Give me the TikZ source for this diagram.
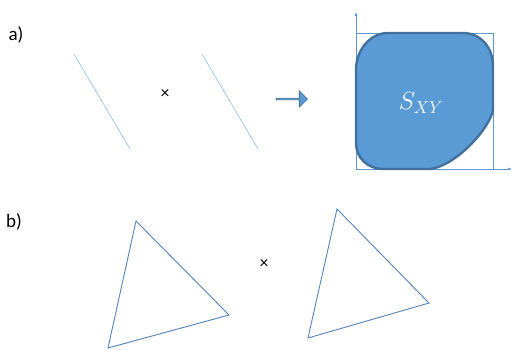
\documentclass[tikz,border=0pt]{standalone}
\usepackage{fontspec}
\setmainfont{Carlito}
\usetikzlibrary{arrows.meta,shapes.arrows}

\definecolor{paleblue}{HTML}{9DC3E6}
\definecolor{axisblue}{HTML}{5B9BD5}
\definecolor{blobfill}{HTML}{5B9BD5}
\definecolor{blobedge}{HTML}{41719C}
\definecolor{triblue}{HTML}{5683BE}

\tikzset{
  tag/.style={font=\fontsize{19}{22}\selectfont, inner sep=0pt},
  prodsign/.style={font=\fontsize{17}{19}\selectfont, inner sep=0pt},
  axisline/.style={axisblue, line width=0.6pt, -{Latex[length=4pt,width=3pt]}},
  tri/.style={triblue, line width=0.9pt, line join=miter}
}

\begin{document}
\begin{tikzpicture}[x=1pt,y=-1pt]
\useasboundingbox (0,0) rectangle (513,349);

%% a)
\node[tag] (taga) at (16,35) {a)};

\coordinate (l1a) at (74,54);  \coordinate (l1b) at (130,149);
\coordinate (l2a) at (202,54); \coordinate (l2b) at (258,149);
\draw[paleblue, line width=0.7pt] (l1a) -- (l1b);
\draw[paleblue, line width=0.7pt] (l2a) -- (l2b);
\node[prodsign] (timesa) at (165,94) {×};

\node[single arrow, fill=blobfill, draw=blobedge, line width=0.8pt,
      minimum width=16pt, minimum height=31pt, single arrow head extend=4pt,
      inner sep=0pt] (imply) at (291.5,99) {};

% axes and box
\coordinate (O) at (356,169);
\coordinate (ytop) at (356,12);
\coordinate (xend) at (512,169);
\draw[axisline] (O) -- (ytop);
\draw[axisline] (O) -- (xend);
\draw[axisblue, line width=0.6pt] (356,33) rectangle (493,169);

\draw[fill=blobfill, draw=blobedge, line width=2.4pt]
(388,33) -- (463,33)
.. controls (481,33) and (493,48) .. (493,66)
-- (493,110)
.. controls (489,130) and (455,166) .. (430,169)
-- (383,169)
.. controls (368,169) and (356,158) .. (356,143)
-- (356,70)
.. controls (356,50) and (370,33) .. (388,33) -- cycle;
\node[text=white, font=\fontsize{24}{26}\selectfont] (sxy) at (421,103) {$S_{XY}$};

%% b)
\node[tag] (tagb) at (14,222) {b)};

\coordinate (t1a) at (136,221); \coordinate (t1b) at (229,315); \coordinate (t1c) at (108,348);
\draw[tri] (t1a) -- (t1b) -- (t1c) -- cycle;

\node[prodsign] (timesb) at (264,264) {×};

\coordinate (t2a) at (337,209); \coordinate (t2b) at (429,303); \coordinate (t2c) at (308,338);
\draw[tri] (t2a) -- (t2b) -- (t2c) -- cycle;
\end{tikzpicture}
\end{document}
